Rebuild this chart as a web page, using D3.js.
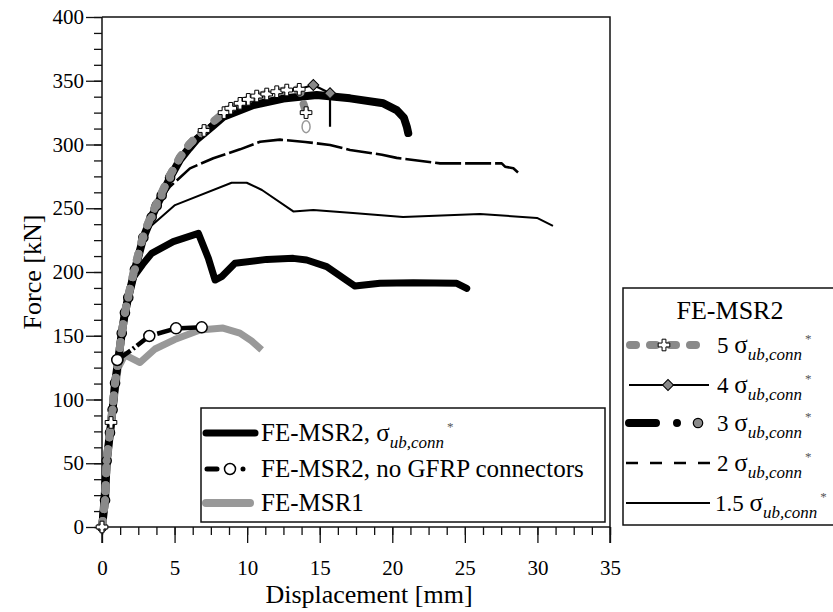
<!DOCTYPE html>
<html><head><meta charset="utf-8">
<script src="https://cdn.jsdelivr.net/npm/d3@7"></script>
<style>
body{margin:0;background:#fff}
svg{display:block}
text{font-family:"Liberation Serif","Times New Roman",serif;fill:#000}
</style>
</head><body>
<svg id="chart" width="833" height="612"></svg>
<script>
// Axis ticks
const xTicks = [0, 5, 10, 15, 20, 25, 30, 35];
const yTicks = [0, 50, 100, 150, 200, 250, 300, 350, 400];

// Force–displacement curves [displacement mm, force kN]
const msr1 = [[0,0],[0.32,45],[0.73,90],[1.12,125],[1.58,135],[2.62,129],[3.65,139.6],[5.0,147],[6.75,154.5],[8.34,156],[9.5,152],[10.3,146],[11.0,139]];
const msr2Base = [[0,0],[0.32,52],[0.73,92],[1.12,131],[1.47,160],[1.81,181],[2.16,196],[2.8,206],[3.42,214.6],[4.91,223.8],[6.64,230.3],[7.33,210.7],[7.79,193.7],[8.24,196.3],[9.16,206.8],[11.35,209.9],[13.18,210.7],[14.1,209.4],[15.48,204.2],[17.43,189],[19.15,191.1],[21.45,191.6],[24.44,191.1],[25.13,187.2]];
const msr2NoGfrp = [[0,0],[0.32,52],[0.62,85],[0.9,118],[1.05,131],[2.05,139],[3.26,149.8],[5.1,155.8],[6.87,156.6]];
const msr2NoGfrpMarks = [[1.05,131],[3.26,149.8],[5.1,155.8],[6.87,156.6]];
const sigma15 = [[0,0],[0.32,52],[0.73,92],[1.12,131],[1.58,168],[2.27,202],[2.85,227],[3.1,231],[3.42,236.5],[5.03,252.5],[8.93,270],[9.97,270],[11.02,264.3],[13.18,247.5],[14.56,248.6],[17.29,246.3],[20.74,243.1],[26.04,245.5],[29.97,242.4],[31.07,236.1]];
const sigma2 = [[0,0],[0.32,52],[0.73,92],[1.12,131],[1.58,168],[2.27,202],[2.85,227],[3.42,243],[3.9,255],[4.69,267],[6.06,281.3],[7.67,289.2],[9.51,296.2],[10.89,302.2],[12.26,303.8],[14.0,302],[15.71,299.6],[17.09,295.7],[19.29,292],[20.3,289.5],[23.29,285.2],[27.54,285.2],[27.77,282.6],[28.34,281.3],[28.68,277.9]];
const sigma3 = [[0,0],[0.21,21],[0.32,52],[0.55,74],[0.73,92],[0.9,113],[1.12,131],[1.36,152],[1.58,168],[1.81,180],[2.27,202],[2.85,227],[3.42,243],[3.77,252],[4.11,260],[4.69,274],[5.37,288],[6.0,297],[6.52,304],[7.67,315],[8.36,321.8],[10.42,331],[12.49,336],[14.79,338.8],[17.09,336.2],[19.38,332.3],[20.3,327],[20.8,321],[21.0,314],[21.1,309]];
const sigma3Marks = [[0,0],[0.21,21],[0.32,52],[0.55,74],[0.73,92],[0.9,113],[1.12,131],[1.36,152],[1.58,168],[1.81,180],[2.27,202],[2.85,227],[3.42,243],[3.77,252],[4.11,260],[4.69,274]];
const sigma4 = [[0,0],[0.32,52],[0.73,92],[1.12,131],[1.58,168],[2.27,204],[2.85,229],[3.77,254],[4.69,276],[5.37,290],[6.52,306],[7.67,318],[8.41,325],[9.51,332],[10.66,338],[12.04,341.4],[13.59,343.5],[14.56,346.7],[15.71,340.2],[15.71,314]];
const sigma4Marks = [[14.56,346.7],[15.71,340.2]];
const sigma5 = [[0,0],[0.21,21],[0.32,52],[0.62,82],[0.9,113],[1.12,131],[1.36,152],[1.58,168],[1.81,181],[2.27,204],[2.85,229],[3.42,245],[3.77,254],[4.11,262],[4.69,276],[5.37,290],[6.0,300],[6.52,306],[7.03,311],[7.67,318],[8.41,325],[8.87,328.4],[9.51,332.3],[10.08,335.4],[10.66,338],[11.35,339.6],[12.04,341.4],[12.73,342.7],[13.59,343.3],[14.06,325]];
const sigma5Marks = [[0,0],[0.62,82],[7.03,311],[8.41,325],[8.87,328.4],[9.51,332.3],[10.08,335.4],[10.66,338],[11.35,339.6],[12.04,341.4],[12.73,342.7],[13.59,343.3],[14.06,325]];
const sigma5Final = [[14.06,314]];

// Legend labels
const innerLegendNames = ["FE-MSR2, ", "FE-MSR2, no GFRP connectors", "FE-MSR1"];
const sigmaFactors = ["5", "4", "3", "2", "1.5"];

const svg = d3.select("#chart");
const x = d3.scaleLinear().domain([0, 35]).range([102, 610]);
const y = d3.scaleLinear().domain([0, 400]).range([527, 17]);
const line = d3.line().x(d => x(d[0])).y(d => y(d[1]));

const GRAY = "#999";
const GRAY5 = "#8a8a8a";

// Frame (top and right)
svg.append("path")
  .attr("d", `M${x(0)},${y(400)}H${x(35)}V${y(0) + 16}`)
  .attr("fill", "none").attr("stroke", "#111").attr("stroke-width", 1.5);

// Minor ticks
svg.append("g").attr("transform", `translate(0,${y(0)})`)
  .call(d3.axisBottom(x).tickValues(d3.range(0, 35.001, 1.25)).tickSize(8).tickFormat(""))
  .call(g => g.select(".domain").remove());
svg.append("g").attr("transform", `translate(${x(0)},0)`)
  .call(d3.axisLeft(y).tickValues(d3.range(0, 400.001, 12.5)).tickSize(8).tickFormat(""))
  .call(g => g.select(".domain").remove());

// Major ticks and labels
const xAxis = svg.append("g").attr("transform", `translate(0,${y(0)})`)
  .call(d3.axisBottom(x).tickValues(xTicks).tickSize(16).tickPadding(17).tickFormat(d3.format("d")));
xAxis.select(".domain").attr("d", `M${x(0)},0H${x(35)}`);
const yAxis = svg.append("g").attr("transform", `translate(${x(0)},0)`)
  .call(d3.axisLeft(y).tickValues(yTicks).tickSize(16).tickPadding(2).tickFormat(d3.format("d")));
yAxis.select(".domain").attr("d", `M0,${y(400)}V${y(0) + 16}`);
svg.selectAll(".tick line").attr("stroke", "#111").attr("stroke-width", 1.3);
svg.selectAll(".domain").attr("stroke", "#111").attr("stroke-width", 1.5);
svg.selectAll(".tick text").attr("font-size", 21).attr("fill", "#000");

// Axis titles
svg.append("text").attr("x", 369).attr("y", 603).attr("text-anchor", "middle")
  .attr("font-size", 26).text("Displacement [mm]");
svg.append("text").attr("transform", "translate(41,272) rotate(-90)").attr("text-anchor", "middle")
  .attr("font-size", 26).text("Force [kN]");

// Curves
const plot = svg.append("g").attr("fill", "none").attr("stroke-linejoin", "round");
plot.append("path").attr("d", line(msr1)).attr("stroke", GRAY).attr("stroke-width", 7).attr("stroke-linecap", "butt");
plot.append("path").attr("d", line(msr2Base)).attr("stroke", "#000").attr("stroke-width", 7).attr("stroke-linecap", "round");
plot.append("path").attr("d", line(msr2NoGfrp)).attr("stroke", "#000").attr("stroke-width", 4.5)
  .attr("stroke-dasharray", "16,3,2,3");
plot.append("path").attr("d", line(sigma15)).attr("stroke", "#000").attr("stroke-width", 2);
plot.append("path").attr("d", line(sigma2)).attr("stroke", "#000").attr("stroke-width", 2.6)
  .attr("stroke-dasharray", "26,4");
plot.append("path").attr("d", line(sigma3)).attr("stroke", "#000").attr("stroke-width", 8).attr("stroke-linecap", "round");
plot.append("path").attr("d", line(sigma4)).attr("stroke", "#000").attr("stroke-width", 2.2);
plot.append("path").attr("d", line(sigma5)).attr("stroke", GRAY5).attr("stroke-width", 8)
  .attr("stroke-linecap", "round").attr("stroke-dasharray", "6,12");

// Markers
const sym = (type, size) => d3.symbol().type(type).size(size)();
function marks(data, type, size, fill, stroke, sw, rot) {
  svg.append("g").selectAll("path").data(data).join("path")
    .attr("d", sym(type, size))
    .attr("transform", d => `translate(${x(d[0])},${y(d[1])})` + (rot ? ` rotate(${rot})` : ""))
    .attr("fill", fill).attr("stroke", stroke).attr("stroke-width", sw);
}
marks(sigma3Marks, d3.symbolCircle, 70, GRAY5, "#000", 1.2);
// dotted gray line over the circle markers on the rising branch
svg.append("path").attr("d", line(sigma5.slice(0, 19))).attr("fill", "none").attr("stroke", GRAY5)
  .attr("stroke-width", 8).attr("stroke-linecap", "round").attr("stroke-dasharray", "6,12");
marks(msr2NoGfrpMarks, d3.symbolCircle, 95, "#fff", "#000", 1.5);
marks(sigma4Marks, d3.symbolSquare, 60, "#888", "#000", 1, 45);
marks(sigma5Marks, d3.symbolCross, 75, "#fff", "#000", 1);
svg.append("g").selectAll("ellipse").data(sigma5Final).join("ellipse")
  .attr("cx", d => x(d[0])).attr("cy", d => y(d[1])).attr("rx", 4).attr("ry", 6)
  .attr("fill", "none").attr("stroke", GRAY).attr("stroke-width", 1.5);

// σ_ub,conn* label builder
function sigmaLabel(t, lead, size, subSize) {
  t.style("opacity", 0.999);
  t.append("tspan").text(lead);
  t.append("tspan").attr("font-size", size + 2).text("σ");
  t.append("tspan").attr("font-size", subSize).attr("font-style", "italic").attr("dy", 7).text("ub,conn");
  t.append("tspan").attr("font-size", subSize - 4).attr("dx", 3).attr("dy", -17)
    .style("fill", "#555").text("*");
}

// Inner legend
const il = svg.append("g");
il.append("rect").attr("x", 201).attr("y", 408).attr("width", 404).attr("height", 114)
  .attr("fill", "#fff").attr("stroke", "#111").attr("stroke-width", 1.5);
const ilRows = [433, 469, 503];
il.append("line").attr("x1", 206).attr("x2", 255).attr("y1", ilRows[0]).attr("y2", ilRows[0])
  .attr("stroke", "#000").attr("stroke-width", 7).attr("stroke-linecap", "round");
il.append("line").attr("x1", 207).attr("x2", 257).attr("y1", ilRows[1]).attr("y2", ilRows[1])
  .attr("stroke", "#000").attr("stroke-width", 5).attr("stroke-linecap", "round").attr("stroke-dasharray", "10,13,0,13,0,40");
il.append("path").attr("d", sym(d3.symbolCircle, 95)).attr("transform", `translate(230,${ilRows[1]})`)
  .attr("fill", "#fff").attr("stroke", "#000").attr("stroke-width", 1.5);
il.append("line").attr("x1", 206).attr("x2", 250).attr("y1", ilRows[2]).attr("y2", ilRows[2])
  .attr("stroke", GRAY).attr("stroke-width", 8).attr("stroke-linecap", "round");
innerLegendNames.forEach((name, i) => {
  const t = il.append("text").attr("x", 261).attr("y", ilRows[i] + 8).attr("font-size", 25);
  if (i === 0) sigmaLabel(t, name, 23, 17);
  else t.text(name);
});

// Series legend
const rl = svg.append("g");
rl.append("rect").attr("x", 623).attr("y", 288).attr("width", 220).attr("height", 237)
  .attr("fill", "#fff").attr("stroke", "#111").attr("stroke-width", 1.5);
rl.append("text").attr("x", 730).attr("y", 319).attr("text-anchor", "middle").attr("font-size", 26).text("FE-MSR2");
const rlRows = [345, 385, 423, 463, 503];
// 5 σ
rl.append("line").attr("x1", 630).attr("x2", 705).attr("y1", rlRows[0]).attr("y2", rlRows[0])
  .attr("stroke", GRAY5).attr("stroke-width", 8).attr("stroke-linecap", "round").attr("stroke-dasharray", "6,14");
rl.append("path").attr("d", sym(d3.symbolCross, 75)).attr("transform", `translate(664,${rlRows[0]})`)
  .attr("fill", "#fff").attr("stroke", "#000").attr("stroke-width", 1);
// 4 σ
rl.append("line").attr("x1", 629).attr("x2", 709).attr("y1", rlRows[1]).attr("y2", rlRows[1])
  .attr("stroke", "#000").attr("stroke-width", 2.2);
rl.append("path").attr("d", sym(d3.symbolSquare, 60)).attr("transform", `translate(668,${rlRows[1]}) rotate(45)`)
  .attr("fill", "#888").attr("stroke", "#000").attr("stroke-width", 1);
// 3 σ
rl.append("line").attr("x1", 629).attr("x2", 705).attr("y1", rlRows[2]).attr("y2", rlRows[2])
  .attr("stroke", "#000").attr("stroke-width", 8).attr("stroke-linecap", "round").attr("stroke-dasharray", "27,21,0,21,0,100");
rl.append("path").attr("d", sym(d3.symbolCircle, 70)).attr("transform", `translate(698,${rlRows[2]})`)
  .attr("fill", GRAY5).attr("stroke", "#000").attr("stroke-width", 1.2);
// 2 σ
rl.append("line").attr("x1", 626).attr("x2", 710).attr("y1", rlRows[3]).attr("y2", rlRows[3])
  .attr("stroke", "#000").attr("stroke-width", 2.6).attr("stroke-dasharray", "12,12");
// 1.5 σ
rl.append("line").attr("x1", 626).attr("x2", 710).attr("y1", rlRows[4]).attr("y2", rlRows[4])
  .attr("stroke", "#000").attr("stroke-width", 2);
sigmaFactors.forEach((f, i) => {
  const t = rl.append("text").attr("x", i === 4 ? 715 : 717).attr("y", rlRows[i] + 8).attr("font-size", 23);
  sigmaLabel(t, f + " ", 23, 17);
});
</script>
</body></html>
